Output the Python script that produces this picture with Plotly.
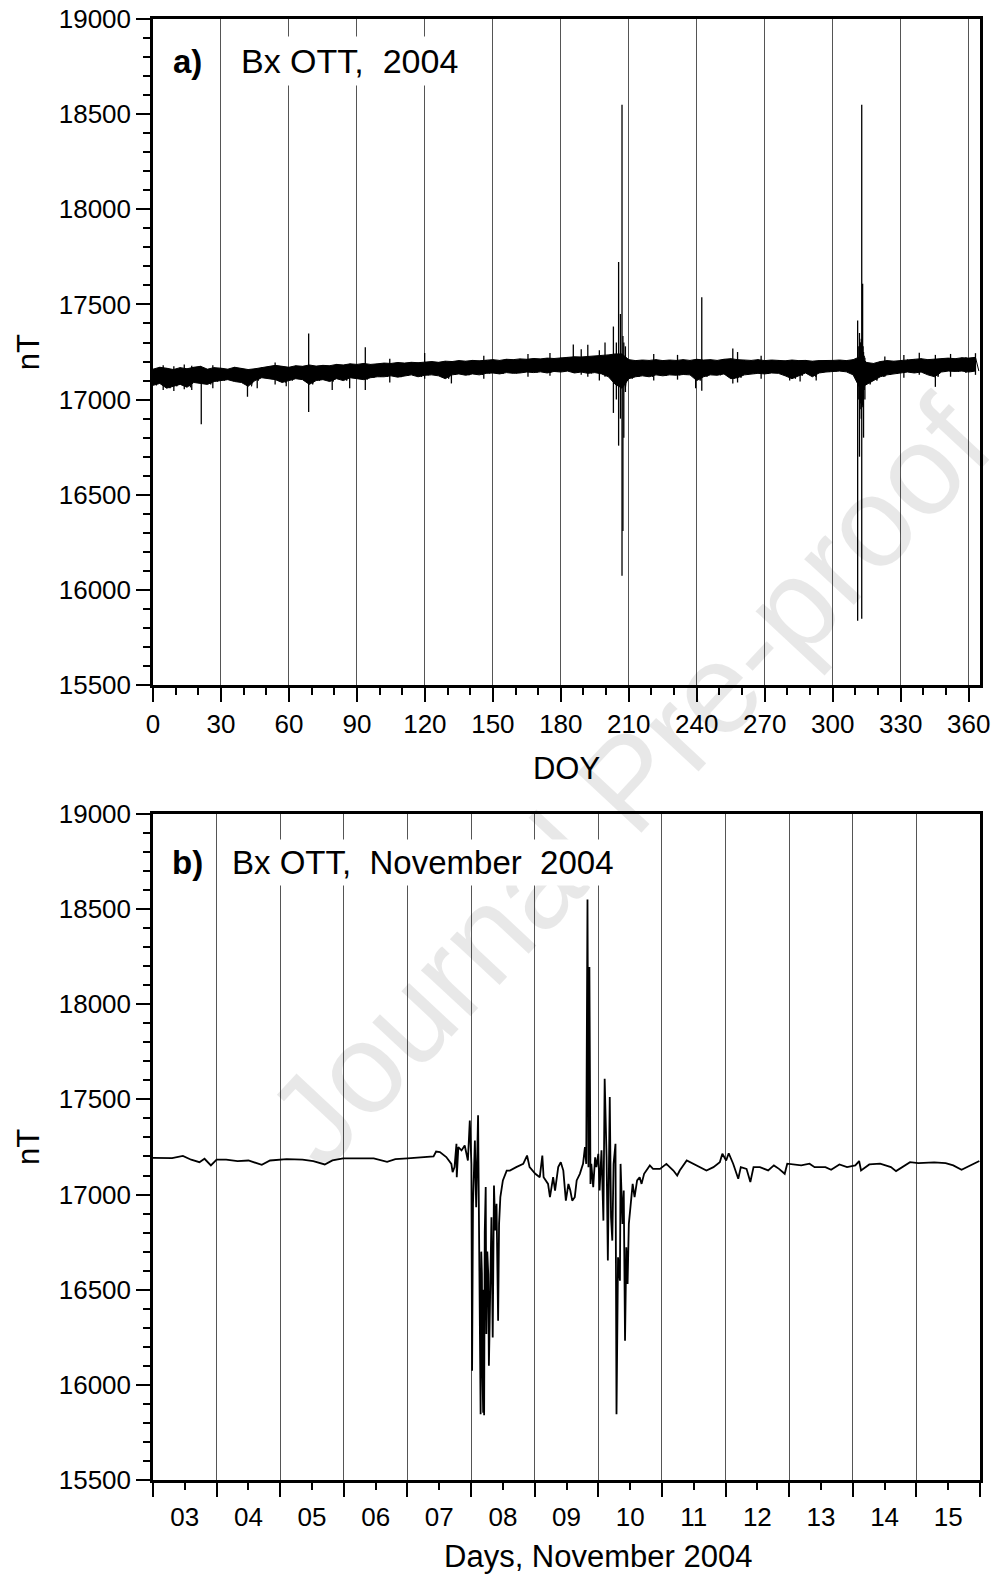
import plotly.graph_objects as go

# ---------------- Panel a : Bx OTT, 2004 (DOY) ----------------
# envelope of the dense hourly band, sampled every 3 days (DOY 0..363)
band_doy = [0, 3, 6, 9, 12, 15, 18, 21, 24, 27, 30, 33, 36, 39, 42, 45, 48, 51, 54, 57,
            60, 63, 66, 69, 72, 75, 78, 81, 84, 87, 90, 93, 96, 99, 102, 105, 108, 111, 114, 117,
            120, 123, 126, 129, 132, 135, 138, 141, 144, 147, 150, 153, 156, 159, 162, 165, 168, 171, 174, 177,
            180, 183, 186, 189, 192, 195, 198, 201, 204, 207, 210, 213, 216, 219, 222, 225, 228, 231, 234, 237,
            240, 243, 246, 249, 252, 255, 258, 261, 264, 267, 270, 273, 276, 279, 282, 285, 288, 291, 294, 297,
            300, 303, 306, 309, 312, 315, 318, 321, 324, 327, 330, 333, 336, 339, 342, 345, 348, 351, 354, 357,
            360, 363]
band_hi = [17160, 17170, 17165, 17158, 17168, 17162, 17170, 17175, 17160, 17168, 17165, 17160, 17170, 17165, 17158, 17162, 17168, 17172, 17180, 17175,
           17170, 17178, 17175, 17182, 17176, 17180, 17178, 17185, 17182, 17188, 17185, 17190, 17185, 17188, 17192, 17190, 17195, 17192, 17196, 17194,
           17198, 17200, 17196, 17202, 17200, 17205, 17202, 17206, 17204, 17208, 17210, 17206, 17212, 17210, 17214, 17212, 17216, 17214, 17218, 17216,
           17220, 17222, 17225, 17224, 17226, 17228, 17230, 17235, 17240, 17240, 17210, 17205, 17208, 17206, 17210, 17205, 17208, 17206, 17210, 17206,
           17212, 17208, 17210, 17206, 17212, 17215, 17210, 17208, 17206, 17210, 17205, 17208, 17206, 17204, 17208, 17205, 17206, 17202, 17205, 17204,
           17206, 17208, 17205, 17210, 17225, 17195, 17190, 17200, 17205, 17202, 17206, 17210, 17212, 17215, 17210, 17212, 17214, 17218, 17215, 17220,
           17218, 17222]
band_lo = [17075, 17085, 17060, 17070, 17080, 17065, 17090, 17085, 17080, 17095, 17100, 17105, 17095, 17090, 17070, 17100, 17115, 17110, 17105, 17090,
           17100, 17110, 17105, 17080, 17100, 17105, 17095, 17110, 17100, 17115, 17110, 17105, 17115, 17120, 17120, 17125, 17118, 17125, 17130, 17120,
           17128, 17130, 17125, 17110, 17130, 17135, 17128, 17135, 17130, 17138, 17140, 17135, 17142, 17138, 17140, 17145, 17142, 17146, 17140, 17148,
           17145, 17150, 17140, 17145, 17138, 17142, 17135, 17120, 17080, 17060, 17110, 17120, 17125, 17120, 17130, 17125, 17130, 17128, 17132, 17130,
           17100, 17120, 17130, 17128, 17135, 17110, 17115, 17130, 17135, 17138, 17135, 17140, 17138, 17125, 17110, 17125, 17140, 17120, 17140, 17145,
           17148, 17150, 17146, 17130, 17060, 17080, 17100, 17120, 17130, 17135, 17140, 17145, 17140, 17145, 17130, 17120, 17145, 17150, 17148, 17150,
           17145, 17150]

# isolated spikes (DOY, min nT, max nT)
spike_doy = [4.5, 9.2, 13.8, 17.1, 21.3, 26.4, 41.7, 46.0, 53.9, 58.8, 68.7, 79.1, 86.8, 93.7, 104.5, 119.9, 131.7,
             146.0, 165.5, 175.2, 185.5, 189.0, 191.9, 197.0, 199.5, 203.2, 204.5, 205.5, 206.3, 207.0, 207.4, 207.8, 208.5,
             221.0, 231.5, 239.5, 242.2, 255.9, 258.0, 268.4, 281.0, 285.6, 292.7,
             311.0, 311.5, 311.8, 312.1, 312.3, 312.6, 312.8, 313.0, 313.2, 313.4, 313.6, 313.9, 314.2,
             323.0, 331.4, 338.2, 345.3, 352.0, 358.8, 363.0]
spike_lo = [17050, 17045, 17055, 17050, 16870, 17060, 17015, 17060, 17080, 17070, 16935, 17050, 17060, 17050, 17090, 17110, 17085,
            17110, 17120, 17125, 17140, 17130, 17120, 17100, 17120, 16930, 17000, 16758, 16900, 16074, 16310, 16800, 17040,
            17100, 17105, 17060, 17047, 17085, 17090, 17110, 17100, 17095, 17100,
            15838, 17000, 16700, 16950, 16980, 16900, 15848, 16960, 16970, 16990, 16800, 17050, 17000,
            17120, 17115, 17130, 17067, 17120, 17140, 17130]
spike_hi = [17180, 17175, 17185, 17178, 17160, 17180, 17150, 17150, 17195, 17160, 17348, 17170, 17175, 17275, 17215, 17245, 17190,
            17230, 17240, 17245, 17290, 17265, 17288, 17260, 17300, 17384, 17300, 17723, 17450, 18550, 17334, 17300, 17280,
            17240, 17235, 17200, 17538, 17268, 17250, 17230, 17200, 17200, 17200,
            17416, 17280, 17350, 17300, 17300, 17320, 18550, 17300, 17609, 17280, 17250, 17230, 17220,
            17226, 17235, 17246, 17235, 17240, 17223, 17244]

# ---------------- Panel b : Bx OTT, November 2004 ----------------
nov_day = [3.00, 3.30, 3.47, 3.60, 3.73, 3.81, 3.91, 4.00, 4.15, 4.33, 4.50, 4.71, 4.84, 4.99,
           5.10, 5.35, 5.52, 5.70, 5.82, 5.99, 6.21, 6.47, 6.68, 6.81, 7.00, 7.11, 7.24, 7.41, 7.45,
           7.51, 7.61, 7.69, 7.71, 7.74, 7.77, 7.775, 7.80, 7.85, 7.90, 7.95, 7.98, 8.005, 8.016,
           8.03, 8.06, 8.08, 8.11, 8.13, 8.15, 8.16, 8.17, 8.18, 8.19, 8.20, 8.205, 8.215, 8.23, 8.24,
           8.255, 8.27, 8.28, 8.29, 8.305, 8.32,
           8.34, 8.36, 8.38, 8.40, 8.425, 8.44, 8.46, 8.50, 8.56, 8.61, 8.71, 8.82, 8.88, 8.92,
           9.01, 9.08, 9.12, 9.14, 9.21, 9.24, 9.29, 9.32, 9.37, 9.41, 9.45, 9.49, 9.53, 9.56,
           9.59, 9.63, 9.66, 9.71, 9.76, 9.79, 9.81, 9.83, 9.845, 9.86, 9.877, 9.89, 9.92, 9.95,
           9.97, 10.00, 10.02, 10.05, 10.08, 10.10, 10.13, 10.15, 10.18, 10.20, 10.22, 10.24, 10.27,
           10.286, 10.31, 10.34, 10.35, 10.38, 10.40, 10.42, 10.44, 10.46, 10.48, 10.51, 10.54,
           10.57, 10.61, 10.65, 10.68, 10.72, 10.76, 10.81, 10.86, 10.97, 11.07, 11.18, 11.24,
           11.28, 11.39, 11.49, 11.60, 11.70, 11.81, 11.91, 11.95, 12.01, 12.05, 12.12, 12.20,
           12.24, 12.33, 12.39, 12.44, 12.54, 12.67, 12.76, 12.84, 12.93, 12.97, 13.06, 13.19,
           13.32, 13.40, 13.57, 13.66, 13.79, 13.91, 14.04, 14.10, 14.13, 14.26, 14.43, 14.60,
           14.68, 14.77, 14.90, 15.03, 15.28, 15.46, 15.58, 15.71, 15.84, 15.99]
bx_nov = [17193, 17191, 17203, 17183, 17170, 17188, 17153, 17183, 17183, 17176, 17179, 17156, 17179, 17184,
          17186, 17184, 17176, 17158, 17179, 17190, 17191, 17190, 17172, 17186, 17190, 17193, 17197, 17200, 17226,
          17223, 17197, 17161, 17118, 17144, 17267, 17091, 17249, 17232, 17258, 17179, 17389, 17161, 16074,
          16951, 17284, 16933, 17416, 16495, 15846, 16700, 16583, 16050, 15854, 16500, 15840, 16800, 17039, 16267,
          16700, 16583, 16100, 16284, 16650, 16881,
          16249, 17047, 16811, 16951, 16337, 16846, 16986, 17074, 17126, 17126, 17144, 17161, 17205, 17144,
          17109, 17091, 17205, 17091, 17056, 16986, 17091, 17021, 17144, 17170, 17126, 16968, 17056, 17021,
          16968, 16986, 17074, 17109, 17161, 17249, 17161, 18550, 17144, 18196, 17056, 17161, 17039, 17196,
          17144, 17214, 17021, 17232, 16863, 17609, 17196, 16653, 17512, 16881, 16758, 17161, 17267,
          15846, 16670, 16547, 17161, 16846, 17021, 16232, 16723, 16530, 16846, 16951, 17056,
          16986, 17074, 17091, 17056, 17109, 17126, 17153, 17135, 17135, 17161, 17126, 17100,
          17126, 17179, 17161, 17144, 17126, 17144, 17170, 17214, 17179, 17217, 17162, 17083,
          17144, 17135, 17066, 17144, 17144, 17127, 17153, 17135, 17109, 17162, 17158, 17153,
          17162, 17144, 17144, 17130, 17158, 17144, 17153, 17176, 17127, 17158, 17162, 17144,
          17123, 17144, 17170, 17165, 17169, 17165, 17153, 17130, 17153, 17176]

doy_ticks = [0, 30, 60, 90, 120, 150, 180, 210, 240, 270, 300, 330, 360]
day_bounds = [3, 4, 5, 6, 7, 8, 9, 10, 11, 12, 13, 14, 15, 16]
day_labels = ["03", "04", "05", "06", "07", "08", "09", "10", "11", "12", "13", "14", "15"]
y_ticks = [15500, 16000, 16500, 17000, 17500, 18000, 18500, 19000]

FONT = "Liberation Sans, Arial, sans-serif"

# solid core of the band (polygon hi -> lo reversed)
px_ = band_doy + band_doy[::-1]
py_ = band_hi + band_lo[::-1]
# zig-zag texture of the band (hi at sample day, lo half a step later)
zx, zy = [], []
for d, h, l in zip(band_doy, band_hi, band_lo):
    zx += [d, d + 1.5]
    zy += [h, l]
sx, sy = [], []
for d, l, h in zip(spike_doy, spike_lo, spike_hi):
    sx += [d, d, None]
    sy += [l, h, None]

fig = go.Figure()
fig.add_trace(go.Scatter(x=px_, y=py_, mode="lines", fill="toself", fillcolor="black",
                         line=dict(color="black", width=1),
                         xaxis="x", yaxis="y", showlegend=False, hoverinfo="skip"))
fig.add_trace(go.Scatter(x=zx, y=zy, mode="lines", line=dict(color="black", width=1),
                         xaxis="x", yaxis="y", showlegend=False, hoverinfo="skip"))
fig.add_trace(go.Scatter(x=sx, y=sy, mode="lines", line=dict(color="black", width=1.3),
                         xaxis="x", yaxis="y", showlegend=False, hoverinfo="skip"))
fig.add_trace(go.Scatter(x=nov_day, y=bx_nov, mode="lines", line=dict(color="black", width=1.8),
                         xaxis="x2", yaxis="y2", showlegend=False))
fig.add_trace(go.Scatter(x=[], y=[], xaxis="x3", yaxis="y2", showlegend=False))

axis_common = dict(showline=True, linecolor="black", linewidth=2.5, mirror=True,
                   ticks="outside", ticklen=14, tickwidth=2, tickcolor="black",
                   tickfont=dict(family=FONT, size=26, color="black"), zeroline=False,
                   automargin=False)

dom_a = [0.5441, 1.0]
dom_b = [0.0, 0.4559]

fig.update_layout(
    width=993, height=1578,
    margin=dict(l=153, r=13, t=19, b=98),
    paper_bgcolor="white", plot_bgcolor="white",
    font=dict(family=FONT, color="black"),
    xaxis=dict(axis_common, domain=[0, 1], anchor="y", range=[0, 365],
               tickvals=doy_ticks, showgrid=True, gridcolor="#555555", gridwidth=1,
               minor=dict(dtick=10, tick0=0, ticks="outside", ticklen=7, tickwidth=2,
                          tickcolor="black", showgrid=False),
               title=dict(text="DOY", font=dict(family=FONT, size=31), standoff=20)),
    yaxis=dict(axis_common, domain=dom_a, anchor="x", range=[15500, 19000],
               tickvals=y_ticks, tickformat="d", showgrid=False,
               minor=dict(dtick=100, tick0=15500, ticks="outside", ticklen=7, tickwidth=2,
                          tickcolor="black", showgrid=False),
               title=dict(text="nT", font=dict(family=FONT, size=31), standoff=10)),
    xaxis2=dict(axis_common, domain=[0, 1], anchor="y2", range=[3, 16],
                tickvals=day_bounds, showticklabels=False, showgrid=True,
                gridcolor="#555555", gridwidth=1,
                minor=dict(dtick=0.5, tick0=3, ticks="outside", ticklen=7, tickwidth=2,
                           tickcolor="black", showgrid=False)),
    xaxis3=dict(overlaying="x2", anchor="y2", side="bottom", range=[3, 16],
                tickvals=[b + 0.5 for b in day_bounds[:-1]], ticktext=day_labels,
                ticks="outside", ticklen=14, tickcolor="rgba(0,0,0,0)",
                tickfont=dict(family=FONT, size=26, color="black"),
                showgrid=False, showline=False, zeroline=False, automargin=False),
    yaxis2=dict(axis_common, domain=dom_b, anchor="x2", range=[15500, 19000],
                tickvals=y_ticks, tickformat="d", showgrid=False,
                minor=dict(dtick=100, tick0=15500, ticks="outside", ticklen=7, tickwidth=2,
                           tickcolor="black", showgrid=False),
                title=dict(text="nT", font=dict(family=FONT, size=31), standoff=10)),
)

ann = [
    dict(text="Journal Pre-proof", xref="paper", yref="paper", x=0.575, y=0.478,
         showarrow=False, textangle=-47,
         font=dict(family=FONT, size=128, color="rgba(0,0,0,0.09)")),
    dict(text="<b>a)</b>", xref="x", yref="y", x=15.3, y=18779, showarrow=False,
         font=dict(family=FONT, size=33)),
    dict(text="Bx OTT,\u00a0 2004", xref="x", yref="y", x=36, y=18779, xanchor="left",
         showarrow=False, bgcolor="white", borderpad=5, font=dict(family=FONT, size=34)),
    dict(text="<b>b)</b>", xref="x2", yref="y2", x=3.55, y=18747, showarrow=False,
         font=dict(family=FONT, size=33)),
    dict(text="Bx OTT,\u00a0 November\u00a0 2004", xref="x2", yref="y2", x=4.16, y=18747,
         xanchor="left", showarrow=False, bgcolor="white", borderpad=4,
         font=dict(family=FONT, size=33)),
    dict(text="Days, November 2004", xref="x2", yref="paper", x=10.0, y=-0.0527,
         yanchor="middle", showarrow=False, font=dict(family=FONT, size=31)),
]
fig.update_layout(annotations=ann)

fig.write_html("out.html")
